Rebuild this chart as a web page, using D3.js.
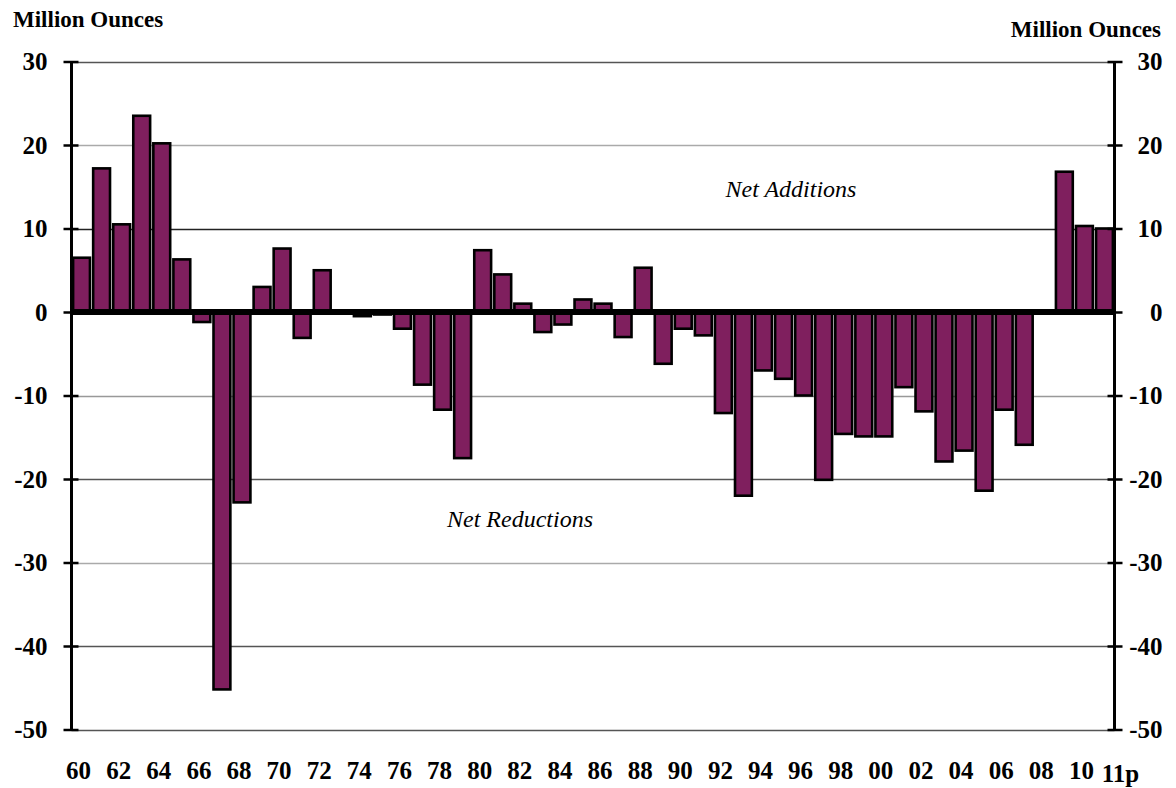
<!DOCTYPE html>
<html>
<head>
<meta charset="utf-8">
<script src="https://cdn.jsdelivr.net/npm/d3@7"></script>
<style>
  body { margin: 0; background: #fff; }
  svg { display: block; }
  text { font-family: "Liberation Serif", "Times New Roman", serif; fill: #000; }
</style>
</head>
<body>
<div class="chart"></div>
<script>
// Net additions / reductions, million ounces, 1960 - 2011p
var years = d3.range(1960, 2012);
var values = [
  6.5, 17.2, 10.5, 23.5, 20.2, 6.3, -1.2, -45.2, -22.8, 3.0,
  7.6, -3.1, 5.0, -0.1, -0.5, -0.3, -2.0, -8.7, -11.7, -17.5,
  7.4, 4.5, 1.0, -2.4, -1.5, 1.5, 1.0, -3.0, 5.3, -6.2,
  -2.0, -2.8, -12.1, -22.0, -7.0, -8.0, -10.0, -20.1, -14.6, -14.9,
  -14.9, -9.0, -11.9, -17.9, -16.6, -21.4, -11.7, -15.9, 0, 16.8,
  10.3, 10.0
];
var yTicks = [30, 20, 10, 0, -10, -20, -30, -40, -50];
var xTickYears = [1960, 1962, 1964, 1966, 1968, 1970, 1972, 1974, 1976, 1978, 1980,
  1982, 1984, 1986, 1988, 1990, 1992, 1994, 1996, 1998, 2000, 2002, 2004, 2006,
  2008, 2010, 2011];
var xTickLabels = ["60", "62", "64", "66", "68", "70", "72", "74", "76", "78", "80",
  "82", "84", "86", "88", "90", "92", "94", "96", "98", "00", "02", "04", "06",
  "08", "10", "11p"];

var data = years.map((d, i) => ({ year: d, value: values[i] }));

var svgWidth = 1176, svgHeight = 788;
var plotLeft = 71.5, plotRight = 1114.5, plotTop = 61.5, plotBottom = 729.5;

var svg = d3.select(".chart")
  .append("svg")
  .attr("width", svgWidth)
  .attr("height", svgHeight);

var x = d3.scaleBand()
  .domain(years)
  .range([plotLeft, plotRight])
  .paddingInner(0.16)
  .paddingOuter(0.08);

var y = d3.scaleLinear()
  .domain([-50, 30])
  .range([plotBottom, plotTop]);

// gridlines
var gridColors = { "30": "#555", "20": "#aaa", "10": "#222", "-10": "#999",
  "-20": "#555", "-30": "#aaa", "-40": "#555", "-50": "#555" };
svg.append("g")
  .selectAll("line")
  .data(yTicks.filter(d => d !== 0))
  .enter()
  .append("line")
  .attr("x1", plotLeft)
  .attr("x2", plotRight)
  .attr("y1", d => Math.round(y(d)) + 0.5)
  .attr("y2", d => Math.round(y(d)) + 0.5)
  .attr("stroke", d => gridColors[d])
  .attr("stroke-width", 1.3);

// bars
svg.append("g")
  .selectAll("rect")
  .data(data.filter(d => d.value !== 0))
  .enter()
  .append("rect")
  .attr("x", d => x(d.year))
  .attr("width", x.bandwidth())
  .attr("y", d => y(Math.max(0, d.value)))
  .attr("height", d => Math.abs(y(d.value) - y(0)))
  .attr("fill", "#7f1f5e")
  .attr("stroke", "#000")
  .attr("stroke-width", 2.6);

// zero line
svg.append("line")
  .attr("x1", plotLeft)
  .attr("x2", plotRight)
  .attr("y1", y(0))
  .attr("y2", y(0))
  .attr("stroke", "#000")
  .attr("stroke-width", 6);

// y axes, left and right, ticks crossing the axis line
function styleAxis(g, side) {
  g.select(".domain").remove();
  g.selectAll(".tick line")
    .attr("x1", side * -7)
    .attr("stroke", "#000")
    .attr("stroke-width", 2.5);
  g.selectAll(".tick text")
    .attr("font-size", "25px")
    .attr("font-weight", "bold")
    .attr("text-anchor", "end");
  g.append("line")
    .attr("x1", 0).attr("x2", 0)
    .attr("y1", plotTop).attr("y2", plotBottom)
    .attr("stroke", "#000")
    .attr("stroke-width", 3);
}

var yFormat = d => String(d);

var leftAxis = svg.append("g")
  .attr("transform", `translate(${plotLeft}, 0)`)
  .call(d3.axisLeft(y).tickValues(yTicks).tickSize(8).tickPadding(6).tickFormat(yFormat))
  .call(g => styleAxis(g, -1));
leftAxis.selectAll(".tick text").attr("x", -24);

var rightAxis = svg.append("g")
  .attr("transform", `translate(${plotRight}, 0)`)
  .call(d3.axisRight(y).tickValues(yTicks).tickSize(8).tickPadding(6).tickFormat(yFormat))
  .call(g => styleAxis(g, 1));
rightAxis.selectAll(".tick text").attr("x", 48);

// x axis labels
var xLabels = svg.append("g")
  .attr("transform", `translate(0, ${plotBottom})`)
  .call(d3.axisBottom(x).tickValues(xTickYears).tickSize(0)
    .tickFormat(d => xTickLabels[xTickYears.indexOf(d)]));
xLabels.select(".domain").remove();
xLabels.selectAll(".tick text")
  .attr("font-size", "25px")
  .attr("font-weight", "bold")
  .attr("y", 32)
  .attr("dy", "0.71em")
  .attr("x", d => d === 2011 ? 16 : -3)
  .attr("transform", d => d === 2011 ? "translate(0,3)" : null);

// titles
svg.append("text")
  .attr("x", 13)
  .attr("y", 27)
  .attr("font-size", "23px")
  .attr("font-weight", "bold")
  .text("Million Ounces");

svg.append("text")
  .attr("x", 1161)
  .attr("y", 37)
  .attr("text-anchor", "end")
  .attr("font-size", "23px")
  .attr("font-weight", "bold")
  .text("Million Ounces");

// annotations
svg.append("text")
  .attr("x", 791)
  .attr("y", 197)
  .attr("text-anchor", "middle")
  .attr("font-size", "24px")
  .attr("font-style", "italic")
  .text("Net Additions");

svg.append("text")
  .attr("x", 520)
  .attr("y", 527)
  .attr("text-anchor", "middle")
  .attr("font-size", "24px")
  .attr("font-style", "italic")
  .text("Net Reductions");
</script>
</body>
</html>
